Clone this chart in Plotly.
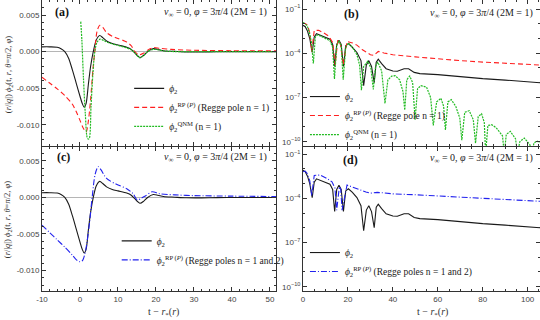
import numpy as np
import plotly.graph_objects as go

# ---------------- data ----------------
# Panels (a),(c): linear amplitude vs t - r*
phi2_t = [-10, -8, -6, -5, -4, -3, -2, -1, 0, 0.6, 1.1, 1.6, 2.2, 2.8, 3.5, 4.3, 5.2, 6, 7, 8.5,
          10, 12.3, 13.5, 14.3, 15.8, 16.8, 17.8, 19.3, 20.5, 22, 25, 28, 32, 36, 40, 51.6]
phi2_v = [0.00065, 0.00065, 0.0006, 0.0004, 0.0, -0.0009, -0.0025, -0.0043, -0.0061, -0.0071,
          -0.0076, -0.0071, -0.0045, -0.0020, 0.0, 0.0016, 0.0022, 0.0019, 0.00145, 0.0011,
          0.0009, 0.0006, 0.0003, -0.0001, -0.0008, -0.0005, 0.0, 0.0004, 0.0003, 0.00012,
          0.00003, -0.00005, -0.00006, -0.00002, 0.0, 0.0]

rp1_t = [-10, -8, -6, -4, -2, -1, 0, 0.8, 1.6, 2.2, 2.8, 3.4, 3.9, 4.5, 5.2, 6, 7, 8.5, 10, 12.3,
         13.5, 14.3, 15.5, 16.8, 17.8, 19.3, 21, 24, 30, 40, 51.6]
rp1_v = [-0.0035, -0.0043, -0.0051, -0.0060, -0.0072, -0.0082, -0.0094, -0.0104, -0.0110, -0.0095,
         -0.0065, -0.0025, 0.0, 0.0028, 0.0036, 0.0033, 0.0026, 0.0021, 0.0018, 0.0013,
         0.0008, 0.0001, -0.00045, -0.0002, 0.0002, 0.00055, 0.00045, 0.0003, 0.00018, 0.00012, 0.0001]

qnm_t = [0.2, 0.5, 0.9, 1.4, 2.0, 2.4, 2.9, 3.4, 3.9, 4.5, 5.3, 6.3, 7.5, 9.6, 12.3, 13.6, 14.3,
         15.8, 16.8, 17.8, 19.3, 20.5, 22, 25, 30, 51.6]
qnm_v = [0.0041, 0.0015, -0.0035, -0.0085, -0.0119, -0.0119, -0.0075, -0.0030, 0.0, 0.0013,
         0.0017, 0.0015, 0.0012, 0.0009, 0.0005, 0.0002, -0.0001, -0.00085, -0.0005, 0.0,
         0.0003, 0.00025, 0.0001, 0.0, 0.0, 0.0]

rp12_t = [-10, -8, -6, -4, -2, -1, 0, 0.7, 1.5, 2.5, 3.2, 4, 4.8, 5.5, 7, 9.6, 12.3, 14, 15.1,
          16.2, 17.2, 19, 21, 25, 30, 40, 51.6]
rp12_v = [-0.0038, -0.0048, -0.0058, -0.0068, -0.0079, -0.0085, -0.0088, -0.0086, -0.0072,
          -0.0035, 0.0, 0.0032, 0.0042, 0.0038, 0.0026, 0.0018, 0.0012, 0.0005, -0.00035,
          -0.0001, 0.0002, 0.00077, 0.0005, 0.00035, 0.00025, 0.00018, 0.00012]

# Panels (b),(d): log10 |amplitude| vs t - r*
lphi2_t = [0, 1, 2, 3, 4.1, 5, 6, 8, 10, 12, 13.2, 14.1, 15, 16, 17, 18, 19, 20.2, 22, 24, 25.8,
           27, 28.2, 29.3, 30.5, 31.7, 32.6, 33.5, 35, 37, 40, 42, 45, 47, 49.5, 52, 60, 70, 80,
           90, 100, 105.5]
lphi2_e = [-2.1, -2.2, -2.5, -3.0, -3.95, -2.9, -2.68, -2.8, -2.92, -3.05, -3.4, -4.9, -3.4,
           -3.12, -3.4, -4.9, -3.5, -3.35, -3.6, -3.95, -4.5, -6.2, -4.8, -4.5, -4.9, -6.0,
           -4.6, -4.4, -4.7, -5.05, -5.2, -5.22, -5.05, -5.05, -5.3, -5.38, -5.45, -5.6, -5.72,
           -5.82, -5.95, -6.0]

lrp1_t = [0, 1, 2, 3, 3.9, 5, 7, 9, 11.5, 13.3, 14.3, 15.5, 16.7, 17.9, 19.6, 22, 24, 26.3, 28.5,
          30, 31.5, 33.5, 36, 40, 50, 60, 70, 80, 90, 100, 105.5]
lrp1_e = [-1.97, -1.98, -2.1, -2.6, -3.9, -2.45, -2.45, -2.6, -2.85, -3.3, -4.8, -3.1, -3.4,
          -4.8, -3.2, -3.3, -3.45, -3.75, -3.95, -4.1, -4.15, -3.88, -3.98, -4.1, -4.25, -4.4,
          -4.5, -4.6, -4.68, -4.77, -4.8]

lqnm_t = [0, 1, 2, 3, 3.8, 4.6, 5.5, 6.5, 8, 10, 12, 13.2, 14.0, 15, 16, 17, 17.9, 19, 20.3, 22,
          24, 25.2, 26.0, 27, 28.8, 30.2, 31.3, 32.3, 33.3, 35, 36.5, 37.8, 39.5, 41, 43, 44.5,
          45.3, 46.2, 47.5, 48.8, 49.9, 51, 52.5, 55, 56.8, 58, 59.5, 61.4, 62.6, 63.4, 64.5,
          66, 68, 69.8, 70.7, 72, 74, 75.8, 76.8, 78, 79.5, 80.7, 81.3, 82.3, 84, 86, 88.8,
          89.6, 90.5, 92.3, 94.6, 95.5, 96.5, 98.5, 101, 101.8, 102.8, 104, 105.5]
lqnm_e = [-1.92, -2.0, -2.2, -2.7, -3.3, -4.7, -2.9, -2.75, -2.85, -3.0, -3.15, -3.6, -5.75,
          -3.5, -3.15, -3.5, -5.8, -3.6, -3.3, -3.6, -4.1, -4.8, -6.5, -4.9, -4.55, -5.0, -6.45,
          -4.9, -4.6, -5.2, -7.4, -5.8, -5.55, -5.52, -5.8, -6.6, -7.85, -5.8, -5.55, -6.0,
          -8.5, -6.4, -6.2, -6.3, -7.0, -8.9, -7.3, -7.05, -7.6, -9.2, -7.3, -7.15, -7.6, -8.4,
          -9.9, -8.0, -7.9, -8.5, -10.1, -8.3, -8.1, -8.7, -10.8, -8.9, -8.85, -9.05, -9.6,
          -10.8, -9.5, -9.3, -9.8, -10.8, -10.0, -9.75, -10.2, -10.8, -10.1, -9.95, -10.05]

lrp12_t = [0, 1, 2, 3, 3.9, 5, 7.6, 10, 12.9, 14.2, 15.0, 16.2, 16.8, 17.4, 19.6, 22, 25.6, 28,
           30, 33, 36, 40, 50, 60, 70, 80, 90, 100, 105.5]
lrp12_e = [-2.2, -2.15, -2.35, -2.8, -3.8, -2.45, -2.42, -2.6, -2.88, -3.3, -4.8, -3.2, -3.4,
           -4.8, -3.1, -3.25, -3.44, -3.57, -3.65, -3.6, -3.63, -3.7, -3.76, -3.85, -3.92,
           -4.0, -4.08, -4.16, -4.2]

LIN_TICKS = [0.005, 0.0, -0.005, -0.010]
LIN_TICKTEXT = ["0.005", "0.000", "-0.005", "-0.010"]
XL_TICKS = [-10, 0, 10, 20, 30, 40, 50]
XL_TICKTEXT = ["-10", "0", "10", "20", "30", "40", "50"]
XR_TICKS = [0, 20, 40, 60, 80, 100]
LOG_TICKS = [1e-1, 1e-4, 1e-7, 1e-10]
LOG_TICKTEXT = ["10<sup>−1</sup>", "10<sup>−4</sup>", "10<sup>−7</sup>", "10<sup>−10</sup>"]
LOG_MINOR = [10.0 ** -k for k in range(1, 11)]

# ---------------- styles ----------------
BLACK = dict(color="#1a1a1a", width=1.1)
RED = dict(color="#ff2020", width=1.1, dash="5px,3px")
GREEN = dict(color="#22bb22", width=1.2, dash="2px,1px")
BLUE = dict(color="#2222ee", width=1.1, dash="6px,2px,1px,2px")
SERIF = "Liberation Serif"

L_phi = "<i>ϕ</i><sub>2</sub>"
L_rp1 = "<i>ϕ</i><sub>2</sub><sup>RP (<i>P</i>)</sup> (Regge pole n = 1)"
L_qnm = "<i>ϕ</i><sub>2</sub><sup>QNM</sup> (n = 1)"
L_rp12 = "<i>ϕ</i><sub>2</sub><sup>RP (<i>P</i>)</sup> (Regge poles n = 1 and 2)"

fig = go.Figure()

def add(x, y, line, name, xa, ya, legend, shape="linear"):
    fig.add_trace(go.Scatter(x=x, y=y, mode="lines", line=dict(shape=shape, **line),
                             name=name, xaxis=xa, yaxis=ya, legend=legend,
                             showlegend=True))

# (a)
add(phi2_t, phi2_v, dict(BLACK, smoothing=0.8), L_phi, "x", "y", "legend", "spline")
add(rp1_t, rp1_v, dict(RED, smoothing=0.8), L_rp1, "x", "y", "legend", "spline")
add(qnm_t, qnm_v, dict(GREEN, smoothing=0.8), L_qnm, "x", "y", "legend", "spline")
# (b)
add(lphi2_t, 10.0 ** np.array(lphi2_e), BLACK, L_phi, "x2", "y2", "legend2")
add(lrp1_t, 10.0 ** np.array(lrp1_e), RED, L_rp1, "x2", "y2", "legend2")
add(lqnm_t, 10.0 ** np.array(lqnm_e), GREEN, L_qnm, "x2", "y2", "legend2")
# (c)
add(phi2_t, phi2_v, dict(BLACK, smoothing=0.8), L_phi, "x3", "y3", "legend3", "spline")
add(rp12_t, rp12_v, dict(BLUE, smoothing=0.8), L_rp12, "x3", "y3", "legend3", "spline")
# (d)
add(lphi2_t, 10.0 ** np.array(lphi2_e), BLACK, L_phi, "x4", "y4", "legend4")
add(lrp12_t, 10.0 ** np.array(lrp12_e), BLUE, L_rp12, "x4", "y4", "legend4")

tickfont = dict(family="Liberation Sans", size=8, color="#444")
common = dict(showline=True, mirror="ticks", linecolor="#333", linewidth=1, ticks="inside",
              ticklen=4, tickcolor="#333", showgrid=False, tickfont=tickfont, zeroline=False,
              automargin=False)

XDOM_L = [0, 0.4699]
XDOM_R = [0.5241, 1]
YDOM_T = [0.4983, 1]
YDOM_B = [0, 0.4948]

def xl(**kw):
    d = dict(common, domain=XDOM_L, range=[-10, 51.6], tickvals=XL_TICKS, ticktext=XL_TICKTEXT,
             minor=dict(dtick=2, tick0=0, ticks="inside", ticklen=2, tickcolor="#333"))
    d.update(kw)
    return d

def xr(**kw):
    d = dict(common, domain=XDOM_R, range=[0, 105.5], tickvals=XR_TICKS,
             minor=dict(dtick=5, tick0=0, ticks="inside", ticklen=2, tickcolor="#333"))
    d.update(kw)
    return d

def ylin(**kw):
    d = dict(common, tickvals=LIN_TICKS, ticktext=LIN_TICKTEXT, zeroline=True,
             zerolinecolor="#b5b5b5", zerolinewidth=1,
             minor=dict(dtick=0.001, tick0=0, ticks="inside", ticklen=2, tickcolor="#333"))
    d.update(kw)
    return d

def ylog(**kw):
    d = dict(common, type="log", tickvals=LOG_TICKS, ticktext=LOG_TICKTEXT,
             minor=dict(tickvals=LOG_MINOR, ticks="inside", ticklen=2, tickcolor="#333"))
    d.update(kw)
    return d

fig.update_layout(
    width=540, height=320,
    margin=dict(l=42, r=0, t=0, b=29),
    paper_bgcolor="white", plot_bgcolor="white",
    xaxis=xl(anchor="y", showticklabels=False),
    yaxis=ylin(anchor="x", domain=YDOM_T, range=[-0.0129, 0.00705]),
    xaxis2=xr(anchor="y2", showticklabels=False),
    yaxis2=ylog(anchor="x2", domain=YDOM_T, range=[-10.29, -0.39]),
    xaxis3=xl(anchor="y3"),
    yaxis3=ylin(anchor="x3", domain=YDOM_B, range=[-0.0128, 0.0069]),
    xaxis4=xr(anchor="y4"),
    yaxis4=ylog(anchor="x4", domain=YDOM_B, range=[-10.29, -0.52]),
)

legfont = dict(family=SERIF, size=9.5, color="#222")
legcommon = dict(bgcolor="rgba(0,0,0,0)", font=legfont, xanchor="left", yanchor="top",
                 itemwidth=30, tracegroupgap=0, itemclick=False)
fig.update_layout(
    legend=dict(legcommon, x=0.175, y=0.746),
    legend2=dict(legcommon, x=0.528, y=0.718),
    legend3=dict(legcommon, x=0.150, y=0.222),
    legend4=dict(legcommon, x=0.528, y=0.182),
)

title = "<i>v</i><sub>∞</sub> = 0, <i>φ</i> = 3<i>π</i>/4 (2M = 1)"
annots = []
for (xp, yp, lab) in [(0.023, 0.958, "(a)"), (0.603, 0.952, "(b)"),
                      (0.027, 0.46, "(c)"), (0.601, 0.45, "(d)")]:
    annots.append(dict(x=xp, y=yp, xref="paper", yref="paper", text="<b>" + lab + "</b>",
                       showarrow=False, xanchor="left", yanchor="middle",
                       font=dict(family=SERIF, size=12, color="#111")))
for (xp, yp) in [(0.4549, 0.958), (0.99, 0.955), (0.4549, 0.46), (0.99, 0.456)]:
    annots.append(dict(x=xp, y=yp, xref="paper", yref="paper", text=title, showarrow=False,
                       xanchor="right", yanchor="middle",
                       font=dict(family=SERIF, size=10, color="#222")))
ytitle = "(<i>r</i>/|<i>q</i>|) <i>ϕ</i><sub>2</sub>(t, <i>r</i>, <i>θ</i>=<i>π</i>/2, <i>φ</i>)"
for yp in [0.742, 0.244]:
    annots.append(dict(x=-0.068, y=yp, xref="paper", yref="paper", text=ytitle, showarrow=False,
                       textangle=-90, xanchor="center", yanchor="middle",
                       font=dict(family=SERIF, size=8.5, color="#333")))
for xp in [0.243, 0.785]:
    annots.append(dict(x=xp, y=-0.0756, xref="paper", yref="paper",
                       text="t − <i>r</i><sub>*</sub>(<i>r</i>)", showarrow=False,
                       xanchor="center", yanchor="middle",
                       font=dict(family=SERIF, size=10, color="#333")))
fig.update_layout(annotations=annots)

fig.write_html("out.html", config={"displayModeBar": False},
               post_script="document.body.style.margin='0';document.body.style.overflow='hidden';")
